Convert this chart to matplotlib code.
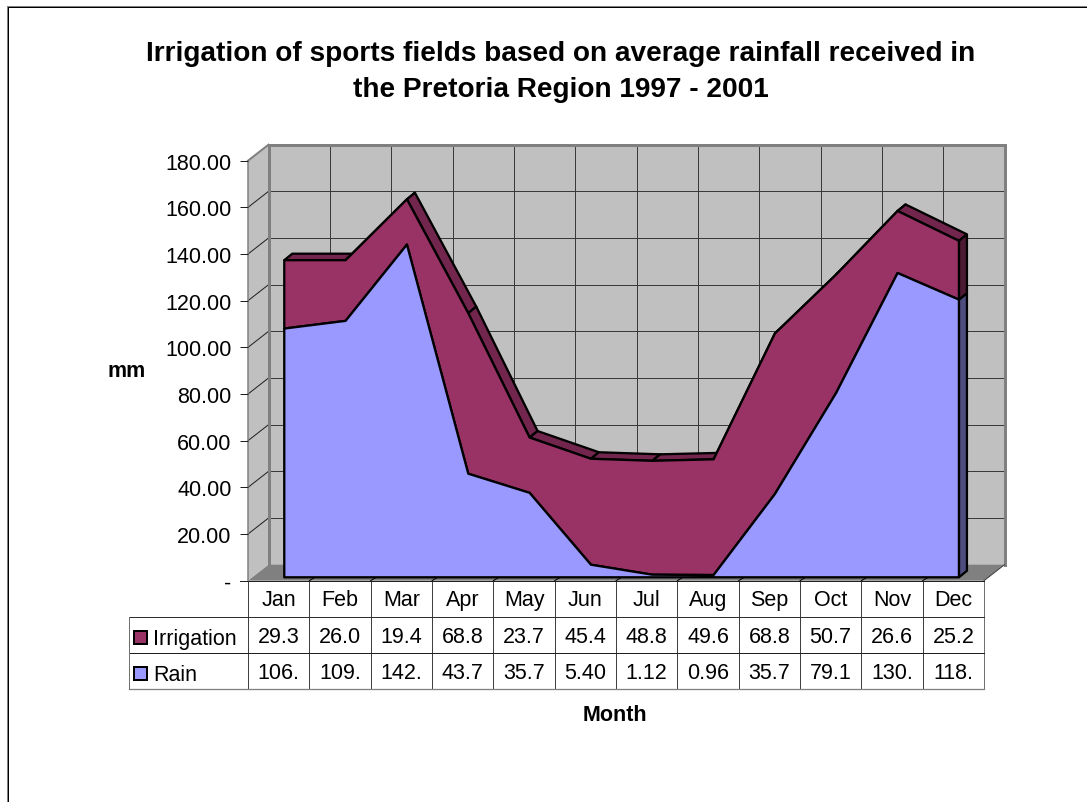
import matplotlib
matplotlib.use("Agg")
import matplotlib.pyplot as plt
from matplotlib.patches import Polygon, Rectangle
from matplotlib.lines import Line2D
from matplotlib.transforms import Affine2D, blended_transform_factory

months = ["Jan", "Feb", "Mar", "Apr", "May", "Jun", "Jul", "Aug", "Sep", "Oct", "Nov", "Dec"]
irrigation = [29.3, 26.0, 19.4, 68.8, 23.7, 45.4, 48.8, 49.6, 68.8, 50.7, 26.6, 25.2]
rain = [106.6, 109.9, 142.6, 44.4, 36.2, 5.40, 1.12, 0.96, 35.7, 79.1, 130.4, 119.0]
irrigation_labels = ["29.3", "26.0", "19.4", "68.8", "23.7", "45.4", "48.8", "49.6", "68.8", "50.7", "26.6", "25.2"]
rain_labels = ["106.", "109.", "142.", "43.7", "35.7", "5.40", "1.12", "0.96", "35.7", "79.1", "130.", "118."]
y_ticks = [0, 20, 40, 60, 80, 100, 120, 140, 160, 180]
y_tick_labels = ["-", "20.00", "40.00", "60.00", "80.00", "100.00", "120.00", "140.00", "160.00", "180.00"]
title = "Irrigation of sports fields based on average rainfall received in\nthe Pretoria Region 1997 - 2001"

W, H = 1087, 803
plt.rcParams["font.family"] = ["Liberation Sans", "DejaVu Sans"]
fig = plt.figure(figsize=(W / 100, H / 100), dpi=100, facecolor="white")
px = Affine2D().scale(1, -1).translate(0, H)
LW = 0.72
FS = 15.5

X0, X1, Y0, Y1 = 248.0, 984.0, 581.7, 161.7
ax = fig.add_axes([X0 / W, 1 - Y0 / H, (X1 - X0) / W, (Y0 - Y1) / H])
ax.set_xlim(0, 12)
ax.set_ylim(0, 180)
ax.patch.set_visible(False)
for s in ax.spines.values():
    s.set_visible(False)
SX = (X1 - X0) / 12
SY = (Y0 - Y1) / 180

def shift(x, y, dx, dy):
    return (x + dx / SX, y + dy / SY)

BACK = (20.5, 16.0)
FRONT = (5.6, 3.4)
THICK = (8.0, 6.5)
GRID = "#3a3a3a"
WALL = "#c0c0c0"
EDGE = "#808080"
n = len(months)

def poly(pts, **kw):
    ax.add_patch(Polygon(pts, closed=True, clip_on=False, **kw))

def line(xs, ys, color=GRID, lw=1.0, z=1):
    ax.add_line(Line2D(xs, ys, color=color, lw=lw * LW, clip_on=False, zorder=z))

# walls and floor
bl = shift(0, 0, *BACK); tl = shift(0, 180, *BACK)
br = shift(12, 0, *BACK); tr = shift(12, 180, *BACK)
poly([(0, 0), bl, tl, (0, 180)], fc=WALL, ec="none", zorder=1)
poly([bl, br, tr, tl], fc=WALL, ec="none", zorder=1)
poly([(0, 0), (12, 0), br, bl], fc=EDGE, ec="none", zorder=1.5)
for v in y_ticks[1:-1]:
    a = shift(0, v, *BACK); b = shift(12, v, *BACK)
    line([a[0], b[0]], [a[1], b[1]], z=1.2)
    line([0, a[0]], [v, a[1]], color="#202020", z=1.2)
for i in range(1, 12):
    a = shift(i, 0, *BACK); b = shift(i, 180, *BACK)
    line([a[0], b[0]], [a[1], b[1]], z=1.2)
line([tl[0], tr[0]], [tl[1], tr[1]], color=EDGE, lw=3, z=1.4)
line([bl[0], tl[0]], [bl[1], tl[1]], color=EDGE, lw=3, z=1.4)
line([tr[0], br[0]], [tr[1], br[1]], color=EDGE, lw=3, z=1.4)
line([0, tl[0]], [180, tl[1]], color=EDGE, lw=2, z=1.4)
line([12, br[0]], [0, br[1]], color="#404040", lw=1, z=1.6)
for i in range(1, 12):
    a = shift(i, 0, *FRONT)
    line([i, a[0]], [0, a[1]], color="black", lw=1, z=1.6)

# stacked 3-D areas
xf = [shift(i + 0.5, 0, *FRONT)[0] for i in range(n)]
base = FRONT[1] / SY
low = [r + base for r in rain]
top = [r + v + base for r, v in zip(rain, irrigation)]
dx, dy = THICK[0] / SX, THICK[1] / SY
EW = 2.3 * LW
TOPC, CAP_I, CAP_R = "#73264d", "#4d1a33", "#4d4d80"
for i in range(n - 1):
    poly([(xf[i], top[i]), (xf[i + 1], top[i + 1]), (xf[i + 1] + dx, top[i + 1] + dy), (xf[i] + dx, top[i] + dy)],
         fc=TOPC, ec="black", lw=EW, zorder=2, joinstyle="round")
poly([(xf[-1], base), (xf[-1] + dx, base + dy), (xf[-1] + dx, low[-1] + dy), (xf[-1], low[-1])],
     fc=CAP_R, ec="black", lw=EW, zorder=2)
poly([(xf[-1], low[-1]), (xf[-1] + dx, low[-1] + dy), (xf[-1] + dx, top[-1] + dy), (xf[-1], top[-1])],
     fc=CAP_I, ec="black", lw=EW, zorder=2)
poly(list(zip(xf, top)) + list(zip(xf, low))[::-1], fc="#993366", ec="black", lw=EW, zorder=3, joinstyle="round")
poly(list(zip(xf, low)) + [(xf[-1], base), (xf[0], base)], fc="#9999ff", ec="black", lw=EW, zorder=4, joinstyle="round")

# axis
ax.set_yticks(y_ticks)
ax.set_yticklabels(y_tick_labels, fontsize=FS)
ax.tick_params(axis="y", length=6, width=LW, color="#202020", pad=5.8)
ax.set_xticks([i + 0.5 for i in range(n)])
ax.set_xticklabels(months, fontsize=FS, va="center")
ax.tick_params(axis="x", length=0, pad=13.2)
line([0, 0], [0, 180], color=EDGE, lw=1.5, z=1.4)

# data table
T = blended_transform_factory(ax.transData, px)
ROW0, ROW1, ROW2, ROW3 = Y0, 618.3, 654.3, 690.0
for labels, yc in [(irrigation_labels, 637.5), (rain_labels, 673.8)]:
    for i, lab in enumerate(labels):
        ax.text(i + 0.5, yc, lab, transform=T, ha="center", va="center", fontsize=FS)
TC = "#303030"
def pline(xs, ys, color=TC, lw=1.0):
    fig.add_artist(Line2D(xs, ys, transform=px, color=color, lw=lw * LW))
for i in range(n + 1):
    x = X0 + SX * i
    pline([x, x], [ROW0, ROW3], color="#707070" if i == n else "#404040")
pline([X0 - 8, X1], [ROW0, ROW0], color="#202020")
pline([128.5, X1], [ROW1, ROW1])
pline([128.5, X1], [ROW2, ROW2], color="#202020")
pline([128.5, X1], [ROW3, ROW3], color="#808080", lw=1.3)
pline([128.5, 128.5], [ROW1, ROW3], color="#707070")
for name, fc, yc in [("Irrigation", "#993366", 638.3), ("Rain", "#9999ff", 674.5)]:
    fig.add_artist(Rectangle((133.5, yc - 6.8), 13.6, 13.6, transform=px, fc=fc, ec="black", lw=2 * LW))
    fig.text(153, yc + 1.2, name, transform=px, ha="left", va="center", fontsize=FS)

# titles and frame
fig.text(560.5, 72, title, transform=px, ha="center", va="center", fontsize=20.2, fontweight="bold", linespacing=1.47)
fig.text(126.5, 371.5, "mm", transform=px, ha="center", va="center", fontsize=FS, fontweight="bold")
fig.text(615, 715.5, "Month", transform=px, ha="center", va="center", fontsize=FS, fontweight="bold")
pline([7, 7, W], [H, 6.5, 6.5], color="#808080", lw=1)
pline([8, 8, W], [H, 7.5, 7.5], color="black", lw=1)

fig.savefig("out.png", dpi=100, facecolor="white")
